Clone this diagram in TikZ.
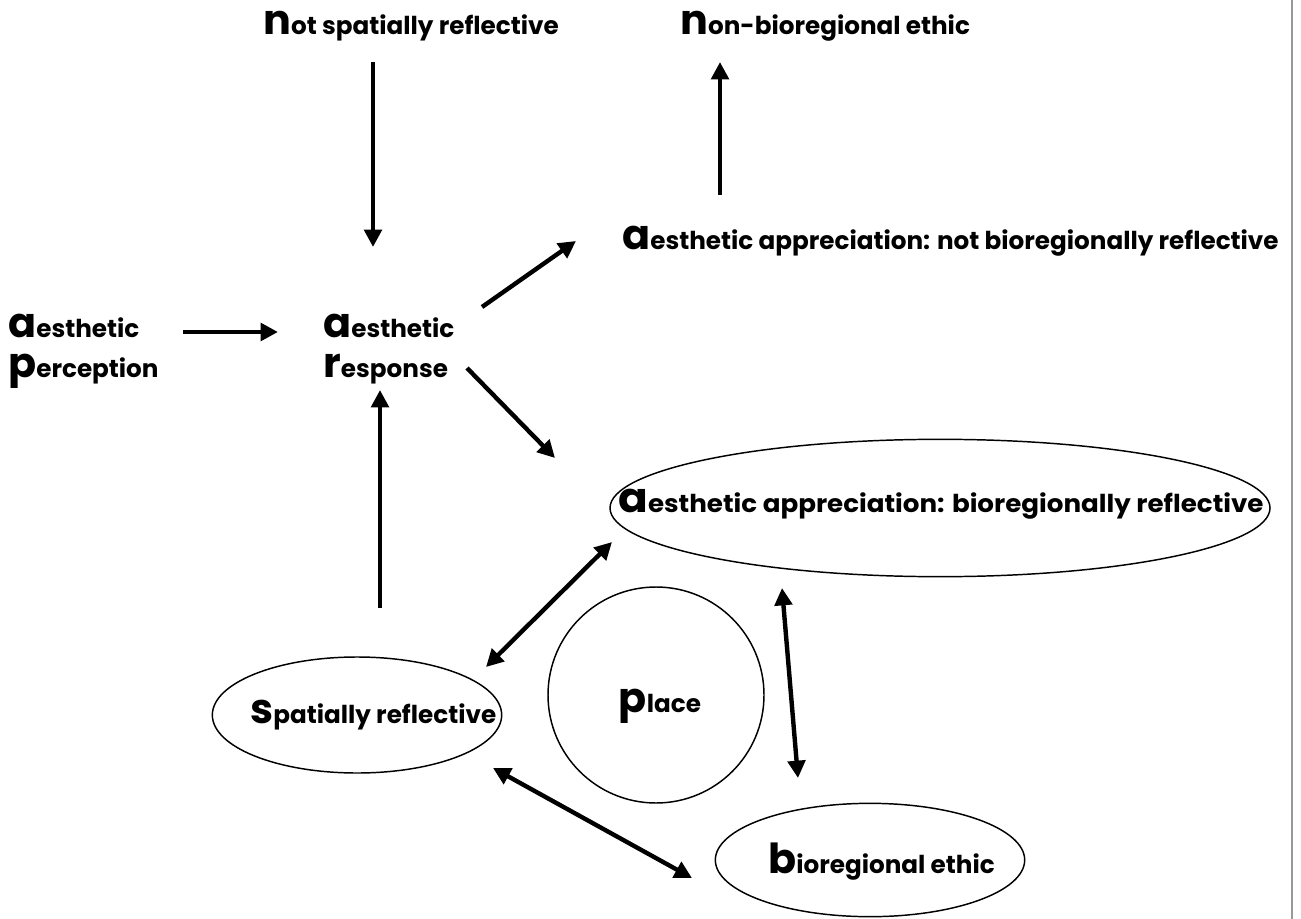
\documentclass[tikz,border=0pt]{standalone}
\usepackage{fontspec}
\setmainfont{Poppins}
\usetikzlibrary{arrows.meta,shapes.geometric}
\newcommand\capl[1]{{\fontsize{31}{30.5}\selectfont #1}}
\tikzset{
  txt/.style={font=\bfseries\fontsize{18.5}{30.5}\selectfont, inner sep=0pt, text=black},
  arr/.style={line width=3.3pt, -{Triangle[length=13pt,width=13pt]}},
  darr/.style={line width=3.3pt, {Triangle[length=13pt,width=13pt]}-{Triangle[length=13pt,width=13pt]}},
  shp/.style={draw, line width=1.1pt, inner sep=0pt}
}
\begin{document}
\begin{tikzpicture}[x=0.75pt,y=-0.75pt]
\useasboundingbox (0,0) rectangle (1301,919);
\draw[gray!80, line width=1.5pt] (1292,0) -- (1292,919);
% shapes
\node[shp, ellipse, minimum width=495pt, minimum height=103pt] (aabr) at (940,508) {};
\node[shp, ellipse, minimum width=217pt, minimum height=87pt] (sr) at (357,715) {};
\node[shp, circle, minimum size=162pt] (pl) at (656,695) {};
\node[shp, ellipse, minimum width=232pt, minimum height=85pt] (be) at (870,860) {};
% texts
\node[txt, anchor=base west] (nsr) at (263,35) {\capl{n}ot spatially reflective};
\node[txt, anchor=base west] (nbe) at (680,35) {\capl{n}on-bioregional ethic};
\node[txt, anchor=base west] (aanb) at (622,250) {\capl{a}esthetic appreciation: not bioregionally reflective};
\node[txt, anchor=base west, align=left] (ap) at (8,378) {\capl{a}esthetic\\\capl{p}erception};
\node[txt, anchor=base west, align=left] (ar) at (323,378) {\capl{a}esthetic\\\capl{r}esponse};
\node[txt, anchor=base west] (aabrt) at (618,512) {\scalebox{1.06}[1]{\capl{a}esthetic appreciation: bioregionally reflective}};
\node[txt, anchor=base west] (srt) at (250,723) {\capl{s}patially reflective};
\node[txt, anchor=base] (plt) at (660,712) {\capl{p}lace};
\node[txt, anchor=base west] (bet) at (768,873) {\capl{b}ioregional ethic};
% arrow ends
\coordinate (c1a) at (373,62);  \coordinate (c1b) at (373,247);
\coordinate (c2a) at (720,195); \coordinate (c2b) at (720,62);
\coordinate (c3a) at (183,332); \coordinate (c3b) at (278,332);
\coordinate (c4a) at (482,307); \coordinate (c4b) at (576,241);
\coordinate (c5a) at (467,368); \coordinate (c5b) at (555,458);
\coordinate (c6a) at (380,608); \coordinate (c6b) at (380,390);
\coordinate (c7a) at (486,667); \coordinate (c7b) at (612,542);
\coordinate (c8a) at (782,588); \coordinate (c8b) at (798,778);
\coordinate (c9a) at (493,768); \coordinate (c9b) at (692,878);
\draw[arr] (c1a) -- (c1b);
\draw[arr] (c2a) -- (c2b);
\draw[arr] (c3a) -- (c3b);
\draw[arr] (c4a) -- (c4b);
\draw[arr] (c5a) -- (c5b);
\draw[arr] (c6a) -- (c6b);
\draw[darr] (c7a) -- (c7b);
\draw[darr] (c8a) -- (c8b);
\draw[darr] (c9a) -- (c9b);
\end{tikzpicture}
\end{document}
